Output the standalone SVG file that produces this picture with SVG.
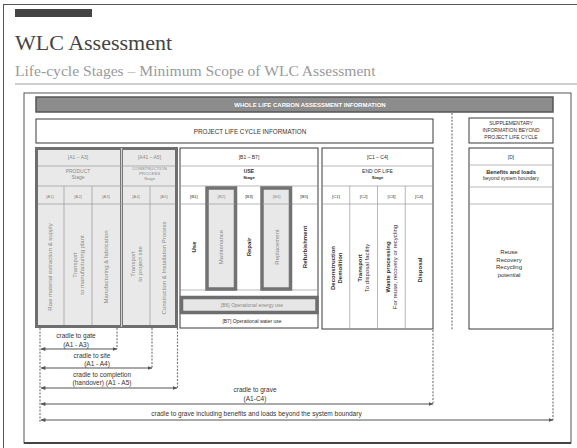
<svg xmlns="http://www.w3.org/2000/svg" width="577" height="448" viewBox="0 0 577 448">
  <defs>
    <style>
      text { font-family: "Liberation Sans", Arial, sans-serif; }
      .serif { font-family: "Liberation Serif", "Times New Roman", serif; }
      .hd { font-size: 5px; text-anchor: middle; }
      .sm { font-size: 4.3px; text-anchor: middle; }
      .g { fill: #8a8a8a; }
      .d { fill: #2e2e2e; }
      .b { font-weight: bold; }
      .v { font-size: 6px; text-anchor: middle; dominant-baseline: central; }
      .box { fill: #fff; stroke: #3a3a3a; stroke-width: 1; }
      .sep { stroke: #9a9a9a; stroke-width: 0.7; fill: none; }
      .hl { fill: #e8e8e8; stroke: #727272; stroke-width: 3.5; }
      .dash { stroke: #7a7a7a; stroke-width: 1.2; stroke-dasharray: 2 1.4; fill: none; }
      .arr { stroke: #555; stroke-width: 1.2; fill: none; marker-start: url(#head); marker-end: url(#head); }
      .lbl { font-size: 6.5px; text-anchor: middle; fill: #333; }
    </style>
    <marker id="head" viewBox="0 0 6 5" refX="5.5" refY="2.5" markerWidth="5" markerHeight="4" markerUnits="userSpaceOnUse" orient="auto-start-reverse">
      <path d="M0,0 L6,2.5 L0,5 z" fill="#555"/>
    </marker>
  </defs>

  <rect width="577" height="448" fill="#fff"/>

  <!-- slide frame and heading -->
  <g id="heading">
    <rect x="3.5" y="4.5" width="600" height="460" fill="none" stroke="#555" stroke-width="1"/>
    <rect x="15" y="9" width="77" height="8" fill="#444"/>
    <text x="15" y="50" class="serif" font-size="22" fill="#444">WLC Assessment</text>
    <text x="15" y="76" class="serif" font-size="15.6" fill="#9a9a9a">Life-cycle Stages – Minimum Scope of WLC Assessment</text>
    <line x1="15" y1="84" x2="577" y2="84" stroke="#cfcfcf" stroke-width="2"/>
    <rect x="24" y="93" width="547" height="350" fill="none" stroke="#555" stroke-width="1"/>
    <line x1="24" y1="443" x2="571" y2="443" stroke="#444" stroke-width="2"/>
  </g>

  <!-- top information bands -->
  <g id="whole-life-band">
    <rect x="36" y="97" width="517" height="15" fill="#8c8c8c" stroke="#555" stroke-width="1.5"/>
    <text x="310" y="107" font-size="6" font-weight="bold" fill="#fff" text-anchor="middle">WHOLE LIFE CARBON ASSESSMENT INFORMATION</text>
  </g>
  <g id="project-info">
    <rect x="36" y="119" width="397" height="24" class="box" stroke-width="1.4"/>
    <text x="250" y="134" font-size="6.3" fill="#333" text-anchor="middle">PROJECT LIFE CYCLE INFORMATION</text>
  </g>
  <g id="supplementary-info">
    <rect x="469" y="118" width="84" height="25" class="box" stroke-width="1.8"/>
    <text x="511" y="125" class="hd d">SUPPLEMENTARY</text>
    <text x="511" y="132" class="hd d">INFORMATION BEYOND</text>
    <text x="511" y="139" class="hd d">PROJECT LIFE CYCLE</text>
  </g>

  <!-- product and construction stages -->
  <g id="product-construction">
    <rect x="36.5" y="148.5" width="140" height="178" fill="#e9e9e9" stroke="#6e6e6e" stroke-width="3"/>
    <line x1="121.5" y1="148" x2="121.5" y2="327" stroke="#777" stroke-width="3"/>
    <line x1="121.5" y1="148" x2="121.5" y2="327" stroke="#e9e9e9" stroke-width="0.8"/>
    <path class="sep" d="M38,166 H175 M38,186 H175 M38,204 H175 M64,186 V325 M92,186 V325 M150,186 V325"/>
  </g>
  <g id="product">
    <text x="78" y="159" class="hd g">[A1 – A3]</text>
    <text x="78" y="173" class="hd g">PRODUCT</text>
    <text x="78" y="179" class="hd g">Stage</text>
    <text x="50" y="198" class="sm g">[A1]</text>
    <text x="78" y="198" class="sm g">[A2]</text>
    <text x="106" y="198" class="sm g">[A3]</text>
    <text transform="translate(50,267) rotate(-90)" class="v g">Raw material extraction &amp; supply</text>
    <text transform="translate(74.5,265) rotate(-90)" class="v g">Transport</text>
    <text transform="translate(82,265) rotate(-90)" class="v g">to manufacturing plant</text>
    <text transform="translate(106,267) rotate(-90)" class="v g">Manufacturing &amp; fabrication</text>
  </g>
  <g id="construction">
    <text x="149.5" y="159" class="hd g">[A41 – A5]</text>
    <text x="149.5" y="170" class="sm g">CONSTRUCTION</text>
    <text x="149.5" y="175" class="sm g">PROCESS</text>
    <text x="149.5" y="180" class="sm g">Stage</text>
    <text x="136" y="198" class="sm g">[A4]</text>
    <text x="164" y="198" class="sm g">[A5]</text>
    <text transform="translate(132.5,264) rotate(-90)" class="v g">Transport</text>
    <text transform="translate(139.5,264) rotate(-90)" class="v g">to project site</text>
    <text transform="translate(164,268) rotate(-90)" class="v g">Construction &amp; Installation Process</text>
  </g>

  <!-- use stage -->
  <g id="use">
    <rect x="180" y="148" width="138" height="180" class="box"/>
    <path class="sep" d="M180,166 H318 M180,186 H318 M180,204 H318 M235.2,186 V290 M180,290 H318"/>
    <rect x="207" y="188" width="28.5" height="101" class="hl"/>
    <rect x="262" y="188" width="28.5" height="101" class="hl"/>
    <path class="sep" d="M207,204 H235.5 M262,204 H290.5"/>
    <rect x="181.5" y="297.5" width="135.5" height="15" fill="#e6e6e6" stroke="#6e6e6e" stroke-width="3.5"/>
    <text x="249" y="159" class="hd d">[B1 – B7]</text>
    <text x="249" y="173" class="hd d b">USE</text>
    <text x="249" y="179" class="sm d b">Stage</text>
    <text x="193.8" y="198" class="sm d">[B1]</text>
    <text x="221.4" y="198" class="sm g">[B2]</text>
    <text x="249" y="198" class="sm d">[B3]</text>
    <text x="276.6" y="198" class="sm g">[B4]</text>
    <text x="304.2" y="198" class="sm d">[B5]</text>
    <text transform="translate(193.5,247) rotate(-90)" class="v d b">Use</text>
    <text transform="translate(221.4,247) rotate(-90)" class="v g">Maintenance</text>
    <text transform="translate(249,247) rotate(-90)" class="v d b">Repair</text>
    <text transform="translate(276.6,247) rotate(-90)" class="v g">Replacement</text>
    <text transform="translate(304.5,247) rotate(-90)" class="v d b">Refurbishment</text>
    <text x="252" y="307" class="hd g">[B6] Operational energy use</text>
    <text x="252" y="323" class="hd d">[B7] Operational water use</text>
  </g>

  <!-- end of life stage -->
  <g id="end-of-life">
    <rect x="322" y="148" width="111" height="181" class="box"/>
    <path class="sep" d="M322,166 H433 M322,186 H433 M322,204 H433 M349.75,186 V329 M377.5,186 V329 M405.25,186 V329"/>
    <text x="377.5" y="159" class="hd d">[C1 – C4]</text>
    <text x="377.5" y="173" class="hd d">END OF LIFE</text>
    <text x="377.5" y="179" class="sm d b">Stage</text>
    <text x="336" y="198" class="sm d">[C1]</text>
    <text x="363.6" y="198" class="sm d">[C2]</text>
    <text x="391.4" y="198" class="sm d">[C3]</text>
    <text x="419" y="198" class="sm d">[C4]</text>
    <text transform="translate(332.5,268) rotate(-90)" class="v d b">Deconstruction</text>
    <text transform="translate(339.5,268) rotate(-90)" class="v d b">Demolition</text>
    <text transform="translate(360,268) rotate(-90)" class="v d b">Transport</text>
    <text transform="translate(367,268) rotate(-90)" class="v d">To disposal facility</text>
    <text transform="translate(388,267) rotate(-90)" class="v d b">Waste processing</text>
    <text transform="translate(395,267) rotate(-90)" class="v d">For reuse, recovery or recycling</text>
    <text transform="translate(419.5,270) rotate(-90)" class="v d b">Disposal</text>
  </g>

  <!-- module D -->
  <g id="benefits-loads">
    <rect x="469" y="148" width="84" height="181" class="box"/>
    <path class="sep" d="M469,165 H553 M469,187 H553 M469,204 H553"/>
    <text x="511" y="159" class="hd d">[D]</text>
    <text x="511" y="174" font-size="5.6" class="d b" text-anchor="middle">Benefits and loads</text>
    <text x="511" y="180" class="hd d">beyond system boundary</text>
    <text x="509" y="254" font-size="6" class="d" text-anchor="middle">Reuse</text>
    <text x="509" y="261.5" font-size="6" class="d" text-anchor="middle">Recovery</text>
    <text x="509" y="269" font-size="6" class="d" text-anchor="middle">Recycling</text>
    <text x="509" y="276.5" font-size="6" class="d" text-anchor="middle">potential</text>
  </g>

  <!-- scope boundaries and spans -->
  <g id="connectors">
    <path class="dash" d="M452,113 V330"/>
    <path class="dash" d="M40,328 V423 M117,328 V349 M152,328 V368 M177.5,328 V388 M433,330 V404 M553,330 V420"/>
    <line class="arr" x1="41" y1="349" x2="117" y2="349"/>
    <line class="arr" x1="41" y1="368" x2="152" y2="368"/>
    <line class="arr" x1="41" y1="388" x2="177" y2="388"/>
    <line class="arr" x1="41" y1="404" x2="433" y2="404"/>
    <line class="arr" x1="41" y1="420" x2="553" y2="420"/>
    <text x="76" y="338" class="lbl">cradle to gate</text>
    <text x="76" y="347" class="lbl">(A1 - A3)</text>
    <text x="92" y="358" class="lbl">cradle to site</text>
    <text x="97" y="366" class="lbl">(A1 - A4)</text>
    <text x="102" y="376.5" class="lbl">cradle to completion</text>
    <text x="102" y="385" class="lbl">(handover) (A1 - A5)</text>
    <text x="255" y="391.5" class="lbl">cradle to grave</text>
    <text x="255" y="400.5" class="lbl">(A1-C4)</text>
    <text x="256.5" y="415.5" class="lbl">cradle to grave including benefits and loads beyond the system boundary</text>
  </g>
</svg>
